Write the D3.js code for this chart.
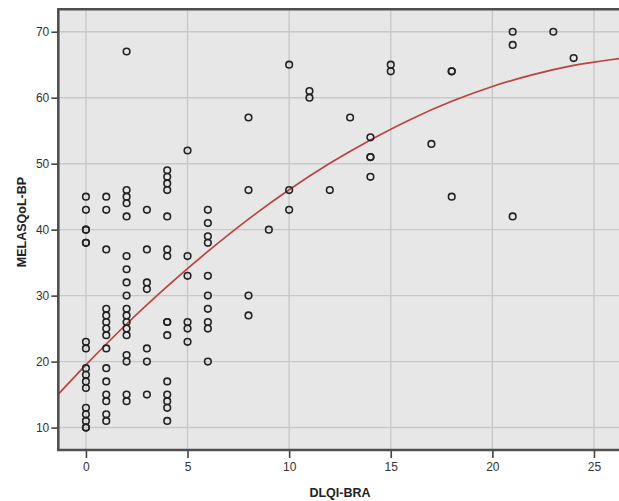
<!DOCTYPE html>
<html>
<head>
<meta charset="utf-8">
<script src="https://cdn.jsdelivr.net/npm/d3@7"></script>
<style>
  html, body { margin: 0; padding: 0; background: #ffffff; }
  svg { display: block; }
</style>
</head>
<body>
<svg id="chart" width="619" height="501"></svg>
<script>
// ---- Data ----
const dlqi = [
  0,0,0,0,0,0,0,0,0,0,0,0,0,0,0,0,0,
  1,1,1,1,1,1,1,1,1,1,1,1,1,1,1,
  2,2,2,2,2,2,2,2,2,2,2,2,2,2,2,2,2,2,
  3,3,3,3,3,3,3,
  4,4,4,4,4,4,4,4,4,4,4,4,4,4,4,
  5,5,5,5,5,5,
  6,6,6,6,6,6,6,6,6,6,
  8,8,8,8,
  9,
  10,10,10,
  11,11,
  12,
  13,
  14,14,14,14,
  15,15,
  17,
  18,18,18,
  21,21,21,
  23,
  24
];
const melasqol = [
  45,43,40,40,38,38,23,22,19,18,17,16,13,12,11,10,10,
  45,43,37,28,27,26,25,24,22,19,17,15,14,12,11,
  67,46,45,44,42,36,34,32,30,28,27,26,25,24,21,20,15,14,
  43,37,32,31,22,20,15,
  49,48,47,46,42,37,36,26,26,24,17,15,14,13,11,
  52,36,33,26,25,23,
  43,41,39,38,33,30,28,26,25,20,
  57,46,30,27,
  40,
  65,46,43,
  61,60,
  46,
  57,
  54,51,51,48,
  65,64,
  53,
  64,64,45,
  70,68,42,
  70,
  66
];
// Quadratic fit line
const fitX = [-1.36, 0, 2, 4, 6, 8, 10, 12, 14, 16, 18, 20, 22, 24, 26.4];
const fitY = [15.05, 19.5, 25.7, 31.4, 36.7, 41.6, 46.05, 50.05, 53.6, 56.75, 59.45, 61.7, 63.5, 64.9, 66.0];

const xTicks = [0, 5, 10, 15, 20, 25];
const yTicks = [10, 20, 30, 40, 50, 60, 70];
const xTitle = "DLQI-BRA";
const yTitle = "MELASQoL-BP";

// ---- Layout ----
const svg = d3.select("#chart");
const L = 58.3, R = 622, T = 9.3, B = 450;

const x = d3.scaleLinear().domain([-1.36, 26.38]).range([L, R]);
const y = d3.scaleLinear().domain([6.6, 73.4]).range([B, T]);

const font = "'Liberation Sans', Arial, Helvetica, sans-serif";

// plot background
svg.append("rect")
  .attr("x", L).attr("y", T).attr("width", R - L).attr("height", B - T)
  .attr("fill", "#e7e7e7");

// gridlines
const grid = svg.append("g");
grid.selectAll("line.gx").data(xTicks).join("line")
  .attr("x1", d => x(d)).attr("x2", d => x(d))
  .attr("y1", T).attr("y2", B)
  .attr("stroke", "#c9c9c9").attr("stroke-width", 1.4);
grid.selectAll("line.gy").data(yTicks).join("line")
  .attr("y1", d => y(d)).attr("y2", d => y(d))
  .attr("x1", L).attr("x2", R)
  .attr("stroke", "#c9c9c9").attr("stroke-width", 1.4);

// clip for marks
svg.append("clipPath").attr("id", "clip")
  .append("rect").attr("x", L).attr("y", T).attr("width", R - L).attr("height", B - T);

// fit line
const fitData = fitX.map((d, i) => [d, fitY[i]]);
svg.append("path")
  .datum(fitData)
  .attr("clip-path", "url(#clip)")
  .attr("fill", "none")
  .attr("stroke", "#bb4340")
  .attr("stroke-width", 1.7)
  .attr("d", d3.line().x(d => x(d[0])).y(d => y(d[1])).curve(d3.curveMonotoneX));

// points
const pts = dlqi.map((d, i) => ({ x: d, y: melasqol[i] }));
svg.append("g").selectAll("circle").data(pts).join("circle")
  .attr("cx", d => x(d.x))
  .attr("cy", d => y(d.y))
  .attr("r", 3.3)
  .attr("fill", "none")
  .attr("stroke", "#222222")
  .attr("stroke-width", 1.6);

// frame
const frame = svg.append("g").attr("stroke", "#4f4f4f").attr("stroke-width", 2.6).attr("fill", "none");
frame.append("path").attr("d", `M${R + 5},${T} L${L},${T} L${L},${B} L${R + 5},${B}`);

// axes
const yAxis = d3.axisLeft(y).tickValues(yTicks).tickSize(6).tickPadding(2).tickFormat(d3.format("d"));
const gy = svg.append("g").attr("transform", `translate(${L - 1},0)`).call(yAxis);
gy.select(".domain").remove();
gy.selectAll(".tick line").attr("stroke", "#444").attr("stroke-width", 1.6);
gy.selectAll(".tick text").attr("font-family", font).attr("font-size", 12).attr("fill", "#333");

const xAxis = d3.axisBottom(x).tickValues(xTicks).tickSize(7).tickPadding(4).tickFormat(d3.format("d"));
const gx = svg.append("g").attr("transform", `translate(0,${B + 1})`).call(xAxis);
gx.select(".domain").remove();
gx.selectAll(".tick line").attr("stroke", "#444").attr("stroke-width", 1.6);
gx.selectAll(".tick text").attr("font-family", font).attr("font-size", 12).attr("fill", "#333");

// axis titles
svg.append("text")
  .attr("x", 340).attr("y", 497)
  .attr("text-anchor", "middle")
  .attr("font-family", font).attr("font-size", 12.5).attr("font-weight", "bold")
  .attr("fill", "#222")
  .text(xTitle);

svg.append("text")
  .attr("transform", "translate(26,222) rotate(-90)")
  .attr("text-anchor", "middle")
  .attr("font-family", font).attr("font-size", 12.5).attr("font-weight", "bold")
  .attr("fill", "#222")
  .text(yTitle);
</script>
</body>
</html>
